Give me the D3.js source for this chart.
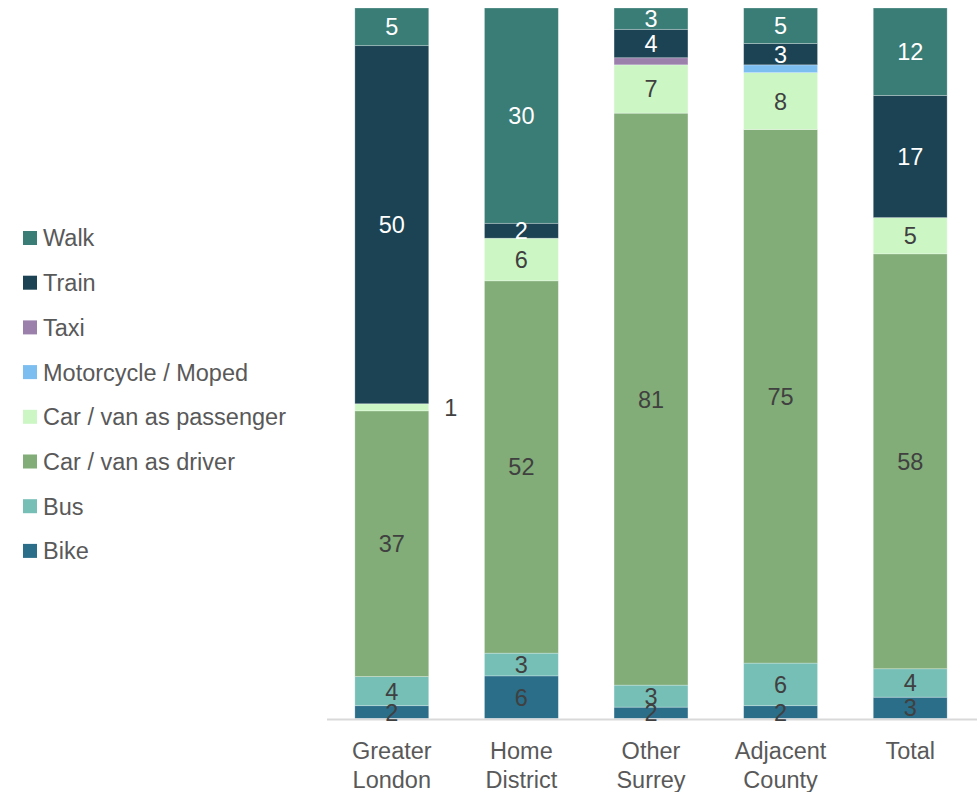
<!DOCTYPE html>
<html>
<head>
<meta charset="utf-8">
<script src="https://cdn.jsdelivr.net/npm/d3@7"></script>
<style>
  body { margin: 0; background: #fff; }
  text { font-family: Arial, "Liberation Sans", sans-serif; }
</style>
</head>
<body>
<svg id="chart" width="977" height="792"></svg>
<script>
const categories = [["Greater", "London"], ["Home", "District"], ["Other", "Surrey"], ["Adjacent", "County"], ["Total"]];

// share of trips (%) by mode, per category
const bike = [1.8, 6.0, 1.6, 1.8, 3.0];
const bus = [4.1, 3.2, 3.1, 6.0, 4.0];
const driver = [37.4, 52.4, 80.5, 75.1, 58.4];
const passenger = [1.0, 6.0, 6.8, 8.0, 5.1];
const moto = [0, 0, 0, 1.1, 0];
const taxi = [0, 0, 1.0, 0, 0];
const train = [50.4, 2.1, 4.0, 3.0, 17.2];
const walk = [5.3, 30.3, 3.0, 5.0, 12.3];

const seriesNames = ["Bike", "Bus", "Car / van as driver", "Car / van as passenger", "Motorcycle / Moped", "Taxi", "Train", "Walk"];
const seriesValues = [bike, bus, driver, passenger, moto, taxi, train, walk];
const seriesColors = ["#2a6e8a", "#76bfb7", "#82ad78", "#ccf7c5", "#7dbef0", "#9b80ac", "#1b4353", "#3a7c76"];
const whiteLabels = ["Train", "Walk"];
// labels placed beside the bar instead of inside
const outsideLabels = [{ cat: 0, series: "Car / van as passenger" }];

const width = 977;
const height = 792;
const margin = { top: 8, right: 2, bottom: 73.5, left: 327 };

const svg = d3.select("#chart");

const keys = categories.map(c => c.join(" "));
const rows = keys.map((k, i) => {
  const row = { cat: k, idx: i };
  seriesNames.forEach((s, j) => (row[s] = seriesValues[j][i]));
  return row;
});

const stack = d3.stack().keys(seriesNames);
const dataset = stack(rows);

const x = d3
  .scaleBand()
  .domain(keys)
  .range([margin.left, width - margin.right])
  .paddingInner(0.43)
  .paddingOuter(0.215);

const y = d3
  .scaleLinear()
  .domain([0, 100])
  .range([height - margin.bottom, margin.top]);

const color = d3.scaleOrdinal().domain(seriesNames).range(seriesColors);

// bars
svg
  .append("g")
  .selectAll("g")
  .data(dataset)
  .join("g")
  .attr("fill", d => color(d.key))
  .selectAll("rect")
  .data(d => d.filter(p => p[1] - p[0] > 0))
  .join("rect")
  .attr("x", d => x(d.data.cat))
  .attr("y", d => y(d[1]))
  .attr("width", x.bandwidth())
  .attr("height", d => y(d[0]) - y(d[1]))
  .attr("stroke", "#ffffff")
  .attr("stroke-opacity", 0.35)
  .attr("stroke-width", 0.75);

// baseline
svg
  .append("line")
  .attr("x1", margin.left)
  .attr("x2", width)
  .attr("y1", y(0) + 1)
  .attr("y2", y(0) + 1)
  .attr("stroke", "#d9d9d9")
  .attr("stroke-width", 2);

// data labels, drawn after all bars so nothing covers them
const isOutside = (d, key) => outsideLabels.some(o => o.cat === d.data.idx && o.series === key);

const labels = svg.append("g");
dataset.forEach(layer => {
  const key = layer.key;
  labels
    .append("g")
    .selectAll("text")
    .data(layer.filter(d => d[1] - d[0] >= 1.5 || isOutside(d, key)))
    .join("text")
    .attr("x", d => (isOutside(d, key) ? x(d.data.cat) + x.bandwidth() + 22 : x(d.data.cat) + x.bandwidth() / 2))
    .attr("y", d => (y(d[0]) + y(d[1])) / 2)
    .attr("dy", "0.36em")
    .attr("text-anchor", "middle")
    .attr("font-size", 23.5)
    .attr("fill", d => (whiteLabels.includes(key) && !isOutside(d, key) ? "#ffffff" : "#404040"))
    .text(d => Math.round(d[1] - d[0]));
});

// category axis labels
const xAxis = svg.append("g");
categories.forEach((lines, i) => {
  const t = xAxis
    .append("text")
    .attr("x", x(keys[i]) + x.bandwidth() / 2)
    .attr("y", 759)
    .attr("text-anchor", "middle")
    .attr("font-size", 23.5)
    .attr("fill", "#595959");
  lines.forEach((l, j) =>
    t.append("tspan")
      .attr("x", x(keys[i]) + x.bandwidth() / 2)
      .attr("dy", j === 0 ? 0 : 29)
      .text(l)
  );
});

// legend, top entry is the last series
const legend = svg
  .append("g")
  .selectAll("g")
  .data(seriesNames.slice().reverse())
  .join("g")
  .attr("transform", (d, i) => `translate(23, ${238 + i * 44.7})`);

legend
  .append("rect")
  .attr("x", 0)
  .attr("y", -7)
  .attr("width", 14)
  .attr("height", 14)
  .attr("fill", d => color(d));

legend
  .append("text")
  .attr("x", 20)
  .attr("y", 0)
  .attr("dy", "0.36em")
  .attr("font-size", 23.5)
  .attr("fill", "#595959")
  .text(d => d);
</script>
</body>
</html>
